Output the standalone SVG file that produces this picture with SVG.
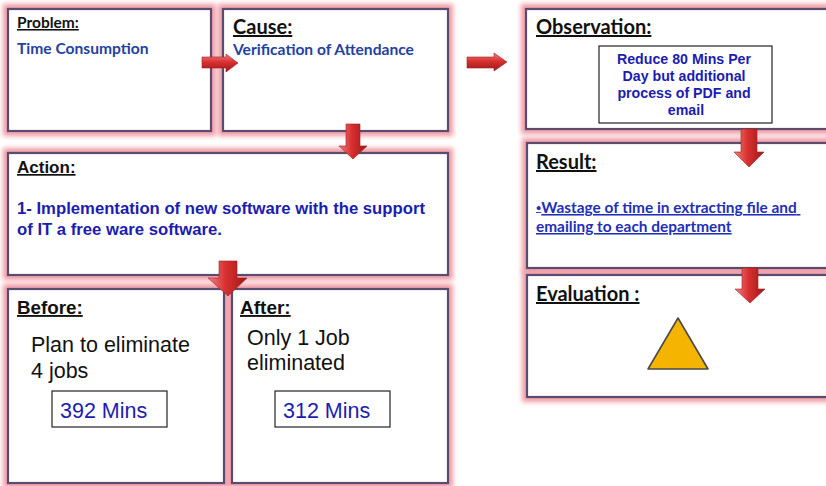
<svg xmlns="http://www.w3.org/2000/svg" width="826" height="486" viewBox="0 0 826 486">
  <defs>
    <filter id="glow" x="-10%" y="-10%" width="120%" height="120%">
      <feGaussianBlur stdDeviation="2.4"/>
    </filter>
    <linearGradient id="gH" x1="0" y1="0" x2="0" y2="1">
      <stop offset="0" stop-color="#f28080"/>
      <stop offset="0.45" stop-color="#d83030"/>
      <stop offset="1" stop-color="#a01818"/>
    </linearGradient>
    <linearGradient id="gV" x1="0" y1="0" x2="1" y2="0">
      <stop offset="0" stop-color="#f28080"/>
      <stop offset="0.45" stop-color="#d83030"/>
      <stop offset="1" stop-color="#a01818"/>
    </linearGradient>
  </defs>
  <style>
    .halo { fill: none; stroke: #f09aa4; stroke-width: 10; filter: url(#glow); }
    .box { fill: #ffffff; stroke: #5a4c6e; stroke-width: 2.2; }
    .inner { fill: #ffffff; stroke: #222222; stroke-width: 1.2; }
    .hd { font-family: Lato, "Liberation Sans", sans-serif; font-weight: bold; fill: #111111; text-decoration: underline; font-size: 20px; }
    .hda { font-family: "Liberation Sans", Arial, sans-serif; font-weight: bold; fill: #111111; text-decoration: underline; }
    .cb { font-family: Lato, "Liberation Sans", sans-serif; font-weight: bold; fill: #2342a0; font-size: 15.6px; }
    .ab { font-family: "Liberation Sans", Arial, sans-serif; font-weight: bold; fill: #1c1cb0; }
    .ar { font-family: "Liberation Sans", Arial, sans-serif; fill: #111111; font-size: 21.5px; }
    .num { font-family: "Liberation Sans", Arial, sans-serif; fill: #1c1cb0; font-size: 21.5px; }
    .arrowH { fill: url(#gH); stroke: #9a2020; stroke-width: 0.6; }
    .arrowV { fill: url(#gV); stroke: #9a2020; stroke-width: 0.6; }
  </style>

  <rect width="826" height="486" fill="#ffffff"/>

  <!-- soft pink halos behind the boxes -->
  <g id="halos">
    <rect class="halo" x="8" y="9" width="203" height="122"/>
    <rect class="halo" x="223" y="9" width="225" height="122"/>
    <rect class="halo" x="526" y="9" width="306" height="120"/>
    <rect class="halo" x="8" y="153" width="440" height="122"/>
    <rect class="halo" x="527" y="143" width="305" height="125"/>
    <rect class="halo" x="527" y="275" width="305" height="122"/>
    <rect class="halo" x="8" y="289" width="216" height="194"/>
    <rect class="halo" x="232" y="289" width="216" height="194"/>
  </g>

  <g id="problem">
    <rect class="box" x="8" y="9" width="203" height="122"/>
    <text class="hd" x="17" y="28" style="font-size:15.5px">Problem:</text>
    <text class="cb" x="17" y="54">Time Consumption</text>
  </g>

  <g id="cause">
    <rect class="box" x="223" y="9" width="225" height="122"/>
    <text class="hd" x="233" y="34">Cause:</text>
    <text class="cb" x="233" y="55">Verification of Attendance</text>
  </g>

  <g id="observation">
    <rect class="box" x="526" y="9" width="306" height="120"/>
    <text class="hd" x="536" y="34">Observation:</text>
    <rect class="inner" x="599" y="46" width="173" height="77"/>
    <text class="ab" font-size="14.2" text-anchor="middle">
      <tspan x="686" y="64">Reduce 80 Mins Per</tspan>
      <tspan x="686" y="81">Day but additional</tspan>
      <tspan x="686" y="98">process of PDF and</tspan>
      <tspan x="686" y="115">email</tspan>
    </text>
  </g>

  <g id="action">
    <rect class="box" x="8" y="153" width="440" height="122"/>
    <text class="hda" x="17" y="173" font-size="17">Action:</text>
    <text class="ab" font-size="16.7">
      <tspan x="17" y="214">1- Implementation of new software with the support</tspan>
      <tspan x="17" y="235">of IT a free ware software.</tspan>
    </text>
  </g>

  <g id="result">
    <rect class="box" x="527" y="143" width="305" height="125"/>
    <text class="hd" x="536" y="169">Result:</text>
    <text class="cb" style="fill:#1f2fb8;text-decoration:underline;font-size:15.4px">
      <tspan x="536" y="213"><tspan style="font-size:9px" dy="-2">•</tspan><tspan dy="2">Wastage of time in extracting file and</tspan></tspan>
      <tspan x="536" y="232">emailing to each department</tspan>
    </text>
  </g>

  <g id="evaluation">
    <rect class="box" x="527" y="275" width="305" height="122"/>
    <text class="hd" x="536" y="301">Evaluation :</text>
    <polygon points="678,318 708,369 648,369" fill="#f5b400" stroke="#4a4a4a" stroke-width="1.6" stroke-linejoin="round"/>
  </g>

  <g id="before">
    <rect class="box" x="8" y="289" width="216" height="194"/>
    <text class="hda" x="17" y="314" font-size="18.8">Before:</text>
    <text class="ar">
      <tspan x="31" y="352">Plan to eliminate</tspan>
      <tspan x="31" y="378">4 jobs</tspan>
    </text>
    <rect class="inner" x="52" y="391" width="115" height="36"/>
    <text class="num" x="60" y="418">392 Mins</text>
  </g>

  <g id="after">
    <rect class="box" x="232" y="289" width="216" height="194"/>
    <text class="hda" x="240" y="314" font-size="19">After:</text>
    <text class="ar">
      <tspan x="247" y="345">Only 1 Job</tspan>
      <tspan x="247" y="370">eliminated</tspan>
    </text>
    <rect class="inner" x="275" y="391" width="115" height="36"/>
    <text class="num" x="283" y="418">312 Mins</text>
  </g>

  <!-- block arrows between the boxes -->
  <g id="connectors">
    <path class="arrowH" d="M202,57 H226 V54 L238,63 L226,72 V68 H202 Z"/>
    <path class="arrowH" d="M467,57 H494 V53 L507,62 L494,71 V68 H467 Z"/>
    <path class="arrowV" d="M346,124 H360 V146 H367 L353,159 L339,146 H346 Z"/>
    <path class="arrowV" d="M219,261 H237 V278 H247 L228,296 L208,278 H219 Z"/>
    <path class="arrowV" d="M741,129 H757 V152 H764 L749,167 L734,152 H741 Z"/>
    <path class="arrowV" d="M742,268 H758 V289 H765 L750,303 L735,289 H742 Z"/>
  </g>
</svg>
